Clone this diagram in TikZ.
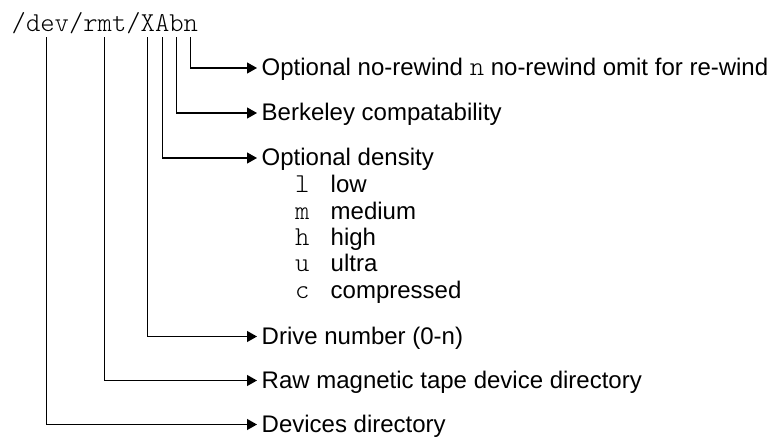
\documentclass[tikz,border=0pt]{standalone}
\usepackage{fontspec}
\setmainfont{Liberation Sans}
\setmonofont{Latin Modern Mono Light}
\usetikzlibrary{arrows.meta}
\begin{document}
\begin{tikzpicture}[x=1pt,y=-1pt,
  conn/.style={line width=1.2pt,-{Triangle[length=10pt,width=11pt]}},
  lbl/.style={anchor=west,inner xsep=4.5pt,inner ysep=0pt,text height=15.5pt,text depth=0pt,font=\fontsize{24}{28}\selectfont},
  mono/.style={anchor=base west,inner sep=0pt,font=\fontsize{27.3}{30}\selectfont\ttfamily},
  word/.style={anchor=base west,inner sep=0pt,font=\fontsize{24}{28}\selectfont}]
\useasboundingbox (0,0) rectangle (772,437);
% path text
\node[mono] (devpath) at (11.5,31.5) {/dev/rmt/XAbn};
% start points of connectors
\coordinate (cdev) at (46.7,37);
\coordinate (crmt) at (104.8,37);
\coordinate (cX) at (147.7,37);
\coordinate (cA) at (162.3,37);
\coordinate (cb) at (176.7,37);
\coordinate (cn) at (190.7,37);
% labels
\node[lbl] (ln) at (257,68) {Optional no-rewind {\fontsize{27.3}{30}\selectfont\ttfamily n} no-rewind omit for re-wind};
\node[lbl] (lb) at (257,113) {Berkeley compatability};
\node[lbl] (lA) at (257,158) {Optional density};
\node[lbl] (lX) at (257,336.5) {Drive number (0-n)};
\node[lbl] (lrmt) at (257,380.5) {Raw magnetic tape device directory};
\node[lbl] (ldev) at (257,424.5) {Devices directory};
% density list
\node[mono] (kl) at (295,192.9) {l};
\node[word] (wl) at (330.5,192.9) {low};
\node[mono] (km) at (295,219.2) {m};
\node[word] (wm) at (330.5,219.2) {medium};
\node[mono] (kh) at (295,245.5) {h};
\node[word] (wh) at (330.5,245.5) {high};
\node[mono] (ku) at (295,271.8) {u};
\node[word] (wu) at (330.5,271.8) {ultra};
\node[mono] (kc) at (295,298.1) {c};
\node[word] (wc) at (330.5,298.1) {compressed};
% connectors
\draw[conn] (cn) |- (ln.west);
\draw[conn] (cb) |- (lb.west);
\draw[conn] (cA) |- (lA.west);
\draw[conn] (cX) |- (lX.west);
\draw[conn] (crmt) |- (lrmt.west);
\draw[conn] (cdev) |- (ldev.west);
\end{tikzpicture}
\end{document}
